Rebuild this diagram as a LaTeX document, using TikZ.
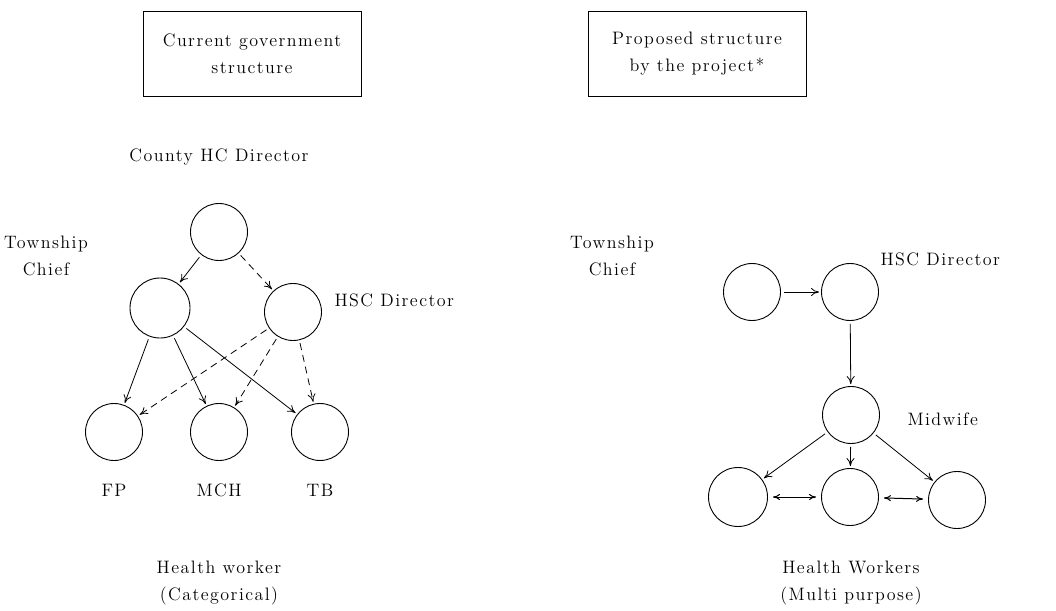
\documentclass[tikz,border=0pt]{standalone}
\usepackage{fontspec}
\setmainfont{lmroman12-regular.otf}[LetterSpace=8]
\usepackage{tikz}
\usetikzlibrary{arrows.meta}
\tikzset{
    unit/.style={circle,draw,line width=0.9pt,minimum size=57pt,inner sep=0pt},
    titlebox/.style={draw,line width=1pt,minimum width=218pt,minimum height=84pt,align=center},
    caption_text/.style={align=center},
    link/.style={-{To[length=8pt,width=8pt]},line width=0.8pt,shorten <=3pt,shorten >=2pt},
    link_dashed/.style={link,dash pattern=on 7pt off 5pt},
    link_both/.style={{To[length=7pt,width=6pt]}-{To[length=7pt,width=6pt]},line width=1pt,shorten <=5pt,shorten >=5pt},
}

\begin{document}
\begin{tikzpicture}[x=1pt,y=-1pt,font=\fontsize{18}{27}\selectfont]
  \useasboundingbox (0,0) rectangle (1056,610);
  \node[titlebox] (cur_box) at (252,54) {Current government\\structure};
  \node[caption_text] (county_lbl) at (219,157) {County HC Director};
  \node[caption_text] (town_lbl) at (46,256) {Township\\Chief};
  \node[unit] (county) at (219,232) {};
  \node[unit,minimum size=60pt] (town) at (160,308) {};
  \node[unit] (hsc) at (293,312) {};
  \node[anchor=west] (hsc_lbl) at (331,300) {HSC Director};
  \node[unit] (fp) at (114,432) {};
  \node[unit] (mch) at (219,432) {};
  \node[unit] (tb) at (320,432) {};
  \node (fp_lbl) at (114,490) {FP};
  \node (mch_lbl) at (219,490) {MCH};
  \node (tb_lbl) at (320,490) {TB};
  \node[caption_text] (cat_lbl) at (219,583) {Health worker\\(Categorical)};
  \draw[link] (county) -- (town);
  \draw[link_dashed] (county) -- (hsc);
  \foreach \t in {fp,mch,tb} \draw[link] (town) -- (\t);
  \foreach \t in {fp,mch,tb} \draw[link_dashed] (hsc) -- (\t);
  \node[titlebox] (prop_box) at (697,54) {Proposed structure\\by the project*};
  \node[caption_text] (town2_lbl) at (612,256) {Township\\Chief};
  \node[unit] (town2) at (752,292) {};
  \node[unit] (hsc2) at (850,292) {};
  \node[anchor=west] (hsc2_lbl) at (877,259) {HSC Director};
  \node[unit] (mid) at (851,415) {};
  \node[anchor=west] (mid_lbl) at (904,419) {Midwife};
  \node[unit,minimum size=59pt] (hw_a) at (738,497) {};
  \node[unit] (hw_b) at (850,497) {};
  \node[unit] (hw_c) at (957,500) {};
  \node[caption_text] (multi_lbl) at (851,583) {Health Workers\\(Multi purpose)};
  \draw[link] (town2) -- (hsc2);
  \draw[link] (hsc2) -- (mid);
  \foreach \t in {hw_a,hw_b,hw_c} \draw[link] (mid) -- (\t);
  \draw[link_both] (hw_a) -- (hw_b);
  \draw[link_both] (hw_b) -- (hw_c);
\end{tikzpicture}
\end{document}
